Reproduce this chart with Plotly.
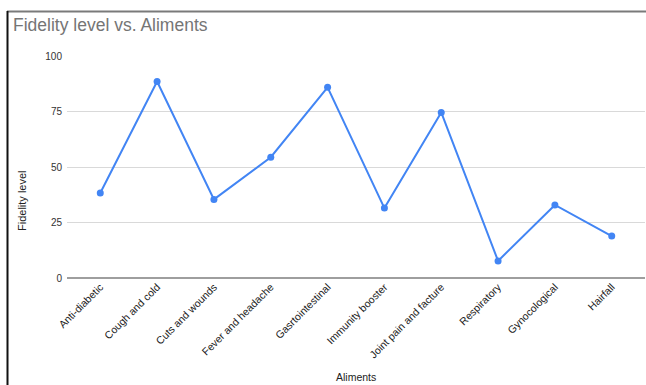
import plotly.graph_objects as go

aliments = ["Anti-diabetic", "Cough and cold", "Cuts and wounds", "Fever and headache",
            "Gasrtointestinal", "Immunity booster", "Joint pain and facture", "Respiratory",
            "Gynocological", "Hairfall"]
fidelity = [38.3, 88.5, 35.4, 54.4, 85.9, 31.5, 74.6, 7.7, 32.9, 18.9]
y_ticks = [0, 25, 50, 75, 100]

W, H = 646, 385
ml, mr, mt, mb = 67, 1, 56, 107
pw, ph = W - ml - mr, H - mt - mb

def px_x(p):
    return (p - ml) / pw

def px_y(p):
    return (H - mb - p) / ph

fig = go.Figure()
fig.add_trace(go.Scatter(
    x=aliments, y=fidelity, mode="lines+markers",
    line=dict(color="#4285F4", width=2),
    marker=dict(color="#4285F4", size=7),
    showlegend=False,
))

fig.update_layout(
    width=W, height=H,
    margin=dict(l=ml, r=mr, t=mt, b=mb),
    paper_bgcolor="white", plot_bgcolor="white",
    font=dict(family="Arial, Liberation Sans, sans-serif"),
    title=dict(text="Fidelity level vs. Aliments", x=13 / W, xanchor="left",
               xref="container", y=1 - 25 / H, yanchor="middle", yref="container",
               font=dict(size=17.5, color="#757575")),
    xaxis=dict(showgrid=False, tickangle=-45, tickfont=dict(size=10.5, color="#222"),
               ticks="", showline=False, zeroline=False),
    yaxis=dict(range=[0, 100], tickvals=y_ticks, showgrid=True, gridcolor="#d9d9d9",
               gridwidth=1, zeroline=True, zerolinecolor="#9e9e9e", zerolinewidth=2,
               tickfont=dict(size=10, color="#333"), ticks="", showline=False,
               ticklabelstandoff=4),
    shapes=[
        dict(type="line", xref="paper", yref="paper", x0=px_x(7), x1=px_x(646),
             y0=px_y(11.5), y1=px_y(11.5), line=dict(color="#7a7a7a", width=2)),
        dict(type="line", xref="paper", yref="paper", x0=px_x(7.5), x1=px_x(7.5),
             y0=px_y(11), y1=px_y(385), line=dict(color="#111111", width=2)),
    ],
    annotations=[
        dict(text="Fidelity level", xref="paper", yref="paper", x=px_x(22), y=px_y(201),
             textangle=-90, showarrow=False, font=dict(size=11, color="#222"),
             xanchor="center", yanchor="middle"),
        dict(text="Aliments", xref="paper", yref="paper", x=px_x(356), y=px_y(377),
             showarrow=False, font=dict(size=10.5, color="#222"),
             xanchor="center", yanchor="middle"),
    ],
)

fig.write_html("out.html")
